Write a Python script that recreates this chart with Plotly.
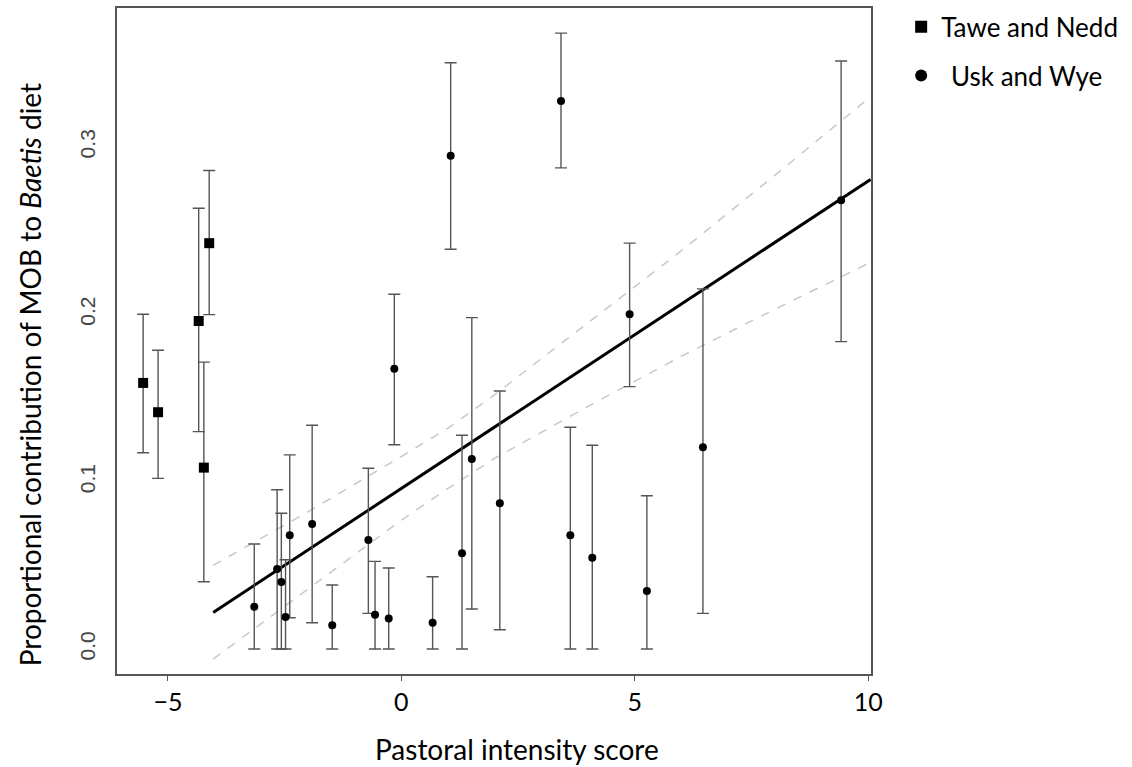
import plotly.graph_objects as go

# ---- Data ----
# Tawe and Nedd (squares)
tn_x = [-5.53, -5.21, -4.34, -4.115, -4.23]
tn_y = [0.159, 0.1415, 0.196, 0.2425, 0.1084]
tn_hi = [0.200, 0.1785, 0.2634, 0.2859, 0.1714]
tn_lo = [0.1173, 0.1020, 0.1299, 0.1998, 0.0402]

# Usk and Wye (circles)
uw_x = [-3.15, -2.66, -2.57, -2.48, -2.39, -1.91, -1.48, -0.706, -0.563, -0.27,
        -0.15, 0.67, 1.057, 1.30, 1.51, 2.11, 3.42, 3.62, 4.09, 4.89, 5.26, 6.46, 9.42]
uw_y = [0.0253, 0.0478, 0.040, 0.0191, 0.068, 0.0747, 0.0143, 0.0652, 0.0205, 0.0183,
        0.1674, 0.0157, 0.2947, 0.0572, 0.1136, 0.0871, 0.3274, 0.068, 0.0546, 0.2001,
        0.0347, 0.1205, 0.2682]
uw_hi = [0.0628, 0.0952, 0.0811, 0.0534, 0.116, 0.1337, 0.0383, 0.108, 0.0524, 0.0484,
         0.212, 0.0432, 0.3503, 0.1277, 0.198, 0.1542, 0.368, 0.1325, 0.1218, 0.2425,
         0.0916, 0.2152, 0.3513]
uw_lo = [0.0, 0.0, 0.0, 0.0, 0.0187, 0.0157, 0.0, 0.0213, 0.0, 0.0,
         0.1221, 0.0, 0.2389, 0.0, 0.0239, 0.0115, 0.2875, 0.0, 0.0, 0.1568,
         0.0, 0.0213, 0.1837]

# Fitted line and confidence band
fit_x = [-4.03, -2, 0, 1, 2, 4, 6, 8, 10.05]
fit_y = [0.0219, 0.0592, 0.096, 0.1144, 0.1328, 0.1695, 0.2063, 0.2430, 0.2806]
ci_hi = [0.050, 0.082, 0.115, 0.132, 0.152, 0.195, 0.238, 0.283, 0.330]
ci_lo = [-0.006, 0.036, 0.077, 0.096, 0.114, 0.145, 0.175, 0.203, 0.231]

x_ticks = [-5, 0, 5, 10]
y_ticks = [0.0, 0.1, 0.2, 0.3]
y_ticklabels = ["0.0", "0.1", "0.2", "0.3"]

series_names = ["Tawe and Nedd", "\u00a0\u2009Usk and Wye"]
x_title = "Pastoral intensity score"
y_title = "Proportional contribution of MOB to <i>Baetis</i> diet"

ERR_COLOR = "#555555"
FONT_MAIN = "Lato"

fig = go.Figure()

# confidence band
fig.add_trace(go.Scatter(x=fit_x, y=ci_hi, mode="lines", showlegend=False,
                         line=dict(color="#c8c8c8", width=1.5, dash="dash"), hoverinfo="skip"))
fig.add_trace(go.Scatter(x=fit_x, y=ci_lo, mode="lines", showlegend=False,
                         line=dict(color="#c8c8c8", width=1.5, dash="dash"), hoverinfo="skip"))
# fitted line
fig.add_trace(go.Scatter(x=fit_x, y=fit_y, mode="lines", showlegend=False,
                         line=dict(color="black", width=3), hoverinfo="skip"))

fig.add_trace(go.Scatter(
    x=tn_x, y=tn_y, mode="markers", name=series_names[0], showlegend=False,
    marker=dict(symbol="square", size=10, color="black"),
    error_y=dict(type="data", symmetric=False,
                 array=[h - v for h, v in zip(tn_hi, tn_y)],
                 arrayminus=[v - l for v, l in zip(tn_y, tn_lo)],
                 color=ERR_COLOR, thickness=1.4, width=6),
))
fig.add_trace(go.Scatter(
    x=uw_x, y=uw_y, mode="markers", name=series_names[1], showlegend=False,
    marker=dict(symbol="circle", size=8, color="black"),
    error_y=dict(type="data", symmetric=False,
                 array=[h - v for h, v in zip(uw_hi, uw_y)],
                 arrayminus=[v - l for v, l in zip(uw_y, uw_lo)],
                 color=ERR_COLOR, thickness=1.4, width=6),
))

# legend entries (larger symbols, as in the reference legend)
fig.add_trace(go.Scatter(x=[None], y=[None], mode="markers", name=series_names[0],
                         legendgroup="a", marker=dict(symbol="square", size=12, color="black")))
fig.add_trace(go.Scatter(x=[None], y=[None], mode="markers", name=series_names[1],
                         legendgroup="b", marker=dict(symbol="circle", size=12, color="black")))

fig.add_annotation(text=x_title, xref="paper", yref="paper", x=0.53, y=-0.112,
                   xanchor="center", yanchor="middle", showarrow=False,
                   font=dict(family=FONT_MAIN, size=28, color="black"))
fig.add_annotation(text=y_title, xref="paper", yref="paper", x=-0.1154, y=0.45,
                   xanchor="center", yanchor="middle", showarrow=False, textangle=-90,
                   font=dict(family=FONT_MAIN, size=28, color="black"))

fig.update_layout(
    width=1132, height=767,
    margin=dict(l=117, r=261, t=8, b=93, autoexpand=False),
    paper_bgcolor="white", plot_bgcolor="white",
    showlegend=True,
    legend=dict(x=1.04, y=1.007, xanchor="left", yanchor="top",
                font=dict(family=FONT_MAIN, size=26, color="black"),
                traceorder="grouped", tracegroupgap=12,
                bgcolor="rgba(0,0,0,0)", itemsizing="trace"),
    xaxis=dict(range=[-6.09, 10.06], tickvals=x_ticks, ticks="outside", ticklen=5,
               tickcolor="#555", showline=True, mirror=True, linecolor="#555", linewidth=1.5,
               showgrid=False, zeroline=False,
               tickfont=dict(family=FONT_MAIN, size=25, color="black")),
    yaxis=dict(range=[-0.0149, 0.383], tickvals=y_ticks, ticktext=y_ticklabels,
               ticks="", showline=True, mirror=True, linecolor="#555", linewidth=1.5,
               showgrid=False, zeroline=False, tickangle=-90, ticklabelstandoff=12,
               tickfont=dict(family="Liberation Sans", size=21, color="#444")),
)

fig.write_html("out.html")
